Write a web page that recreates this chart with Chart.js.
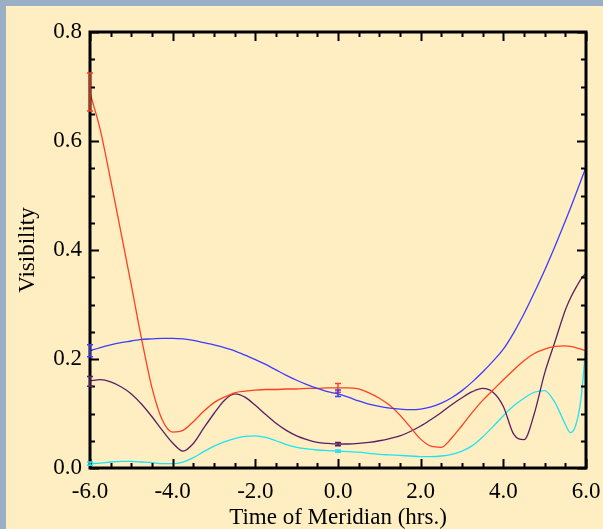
<!DOCTYPE html>
<html>
<head>
<meta charset="utf-8">
<script src="https://cdn.jsdelivr.net/npm/chart.js@4/dist/chart.umd.min.js"></script>
<style>
  html, body { margin: 0; padding: 0; background: #9aafc6; }
  #frame { position: absolute; left: 6px; top: 6px; width: 597px; height: 523px; background: #feeec2; }
  canvas { display: block; }
</style>
</head>
<body>
<div id="frame"><canvas id="chart" width="597" height="523"></canvas></div>
<script>
// hour angle samples (hrs), shared by all curves
const hours = [-6, -5.75, -5.5, -5.25, -5, -4.75, -4.5, -4.25, -4, -3.75, -3.5, -3.25, -3, -2.75, -2.5, -2.25, -2,
  -1.75, -1.5, -1.25, -1, -0.75, -0.5, -0.25, 0, 0.25, 0.5, 0.75, 1, 1.25, 1.5, 1.75, 2, 2.25, 2.5, 2.75, 3,
  3.25, 3.5, 3.75, 4, 4.25, 4.5, 4.75, 5, 5.25, 5.5, 5.625, 5.75, 5.875, 6];

const redVis = [0.688, 0.620, 0.528, 0.432, 0.335, 0.236, 0.147, 0.088, 0.066, 0.069, 0.085, 0.104, 0.120, 0.130,
  0.138, 0.141, 0.143, 0.144, 0.144, 0.145, 0.145, 0.146, 0.146, 0.147, 0.147, 0.147, 0.145, 0.138, 0.128,
  0.115, 0.097, 0.075, 0.053, 0.040, 0.038, 0.055, 0.078, 0.102, 0.124, 0.143, 0.162, 0.180, 0.197, 0.210,
  0.218, 0.223, 0.224, 0.223, 0.221, 0.218, 0.215];

const blueVis = [0.215, 0.221, 0.226, 0.230, 0.233, 0.236, 0.237, 0.238, 0.238, 0.237, 0.234, 0.230, 0.226, 0.221,
  0.215, 0.207, 0.199, 0.190, 0.180, 0.170, 0.161, 0.153, 0.146, 0.140, 0.136, 0.130, 0.123, 0.117, 0.113,
  0.110, 0.108, 0.107, 0.108, 0.112, 0.119, 0.129, 0.142, 0.158, 0.176, 0.196, 0.218, 0.248, 0.283, 0.322,
  0.363, 0.407, 0.453, 0.477, 0.502, 0.527, 0.552];

const purpleVis = [0.160, 0.162, 0.158, 0.149, 0.136, 0.117, 0.094, 0.069, 0.046, 0.031, 0.045, 0.073, 0.100, 0.124,
  0.136, 0.130, 0.115, 0.098, 0.082, 0.069, 0.059, 0.052, 0.047, 0.045, 0.044, 0.044, 0.045, 0.047, 0.050,
  0.054, 0.059, 0.067, 0.077, 0.089, 0.102, 0.116, 0.129, 0.140, 0.146, 0.139, 0.113, 0.062, 0.052, 0.100,
  0.174, 0.232, 0.290, 0.312, 0.330, 0.346, 0.358];

const cyanVis = [0.008, 0.009, 0.011, 0.012, 0.012, 0.011, 0.010, 0.008, 0.008, 0.011, 0.019, 0.030, 0.040, 0.048,
  0.054, 0.058, 0.059, 0.056, 0.050, 0.043, 0.038, 0.035, 0.033, 0.032, 0.031, 0.030, 0.029, 0.027, 0.025,
  0.024, 0.023, 0.022, 0.021, 0.021, 0.022, 0.025, 0.031, 0.041, 0.057, 0.076, 0.096, 0.114, 0.128, 0.139,
  0.142, 0.120, 0.080, 0.065, 0.078, 0.125, 0.226];

// measured points with error bars
const errHours = [-6, 0];
const redMeas = [0.690, 0.147], redErr = [0.035, 0.008];
const blueMeas = [0.215, 0.137], blueErr = [0.011, 0.006];
const purpleMeas = [0.159, 0.044], purpleErr = [0.009, 0.003];
const cyanMeas = [0.008, 0.031], cyanErr = [0.003, 0.002];

const xTicks = [-6, -4, -2, 0, 2, 4, 6];
const yTicks = [0, 0.2, 0.4, 0.6, 0.8];

const colors = { red: "#ff4020", blue: "#3c3cff", purple: "#5c1e62", cyan: "#20e2f0" };
const serif = "'Liberation Serif', 'DejaVu Serif', serif";

function curve(vals, color) {
  return {
    data: hours.map((h, i) => ({ x: h, y: vals[i] })),
    borderColor: color,
    borderWidth: 1.3,
    pointRadius: 0,
    cubicInterpolationMode: "monotone",
    fill: false
  };
}

const errSets = [
  [redMeas, redErr, colors.red],
  [blueMeas, blueErr, colors.blue],
  [purpleMeas, purpleErr, colors.purple],
  [cyanMeas, cyanErr, colors.cyan]
];

// box, inward major/minor ticks on all four sides, then error bars
const frame = {
  id: "frame",
  afterDraw(chart) {
    const { ctx, chartArea: a, scales: { x, y } } = chart;
    ctx.save();
    ctx.strokeStyle = "#000";
    ctx.lineWidth = 2;
    ctx.beginPath();
    for (let k = 0; k <= 24; k++) {
      const v = -6 + k * 0.5;
      const px = Math.round(x.getPixelForValue(v)) + 0.5;
      const len = k % 4 === 0 ? 9 : 5;
      ctx.moveTo(px, a.bottom); ctx.lineTo(px, a.bottom - len);
      ctx.moveTo(px, a.top); ctx.lineTo(px, a.top + len);
    }
    for (let k = 0; k <= 16; k++) {
      const v = k * 0.05;
      const py = Math.round(y.getPixelForValue(v)) + 0.5;
      const len = k % 4 === 0 ? 9 : 5;
      ctx.moveTo(a.left, py); ctx.lineTo(a.left + len, py);
      ctx.moveTo(a.right, py); ctx.lineTo(a.right - len, py);
    }
    ctx.stroke();
    ctx.lineWidth = 3;
    ctx.strokeRect(a.left, a.top, a.right - a.left, a.bottom - a.top);

    ctx.lineWidth = 1.5;
    errSets.forEach(([m, e, c]) => {
      ctx.strokeStyle = c;
      ctx.beginPath();
      errHours.forEach((h, i) => {
        const px = x.getPixelForValue(h);
        const y1 = y.getPixelForValue(m[i] + e[i]);
        const y2 = y.getPixelForValue(m[i] - e[i]);
        ctx.moveTo(px, y1); ctx.lineTo(px, y2);
        ctx.moveTo(px - 3, y1); ctx.lineTo(px + 3, y1);
        ctx.moveTo(px - 3, y2); ctx.lineTo(px + 3, y2);
      });
      ctx.stroke();
    });
    ctx.restore();
  }
};

new Chart(document.getElementById("chart"), {
  type: "line",
  data: {
    datasets: [
      curve(blueVis, colors.blue),
      curve(redVis, colors.red),
      curve(purpleVis, colors.purple),
      curve(cyanVis, colors.cyan)
    ]
  },
  options: {
    responsive: false,
    animation: false,
    devicePixelRatio: 1,
    layout: { padding: { left: 6, top: 26, right: 17, bottom: 0 } },
    plugins: { legend: { display: false }, tooltip: { enabled: false } },
    scales: {
      x: {
        type: "linear",
        min: -6, max: 6,
        afterBuildTicks: s => { s.ticks = xTicks.map(v => ({ value: v })); },
        afterFit: s => { s.height = 61; s.paddingLeft = 0; s.paddingRight = 0; },
        grid: { display: false, drawTicks: false },
        border: { display: false },
        ticks: { color: "#000", padding: 10, maxRotation: 0, font: { family: serif, size: 23 }, callback: v => v.toFixed(1) },
        title: { display: true, text: "Time of Meridian (hrs.)", color: "#000", padding: 0, font: { family: serif, size: 23, lineHeight: 1 } }
      },
      y: {
        type: "linear",
        min: 0, max: 0.8,
        afterBuildTicks: s => { s.ticks = yTicks.map(v => ({ value: v })); },
        afterFit: s => { s.width = 78; s.paddingTop = 0; s.paddingBottom = 0; },
        grid: { display: false, drawTicks: false },
        border: { display: false },
        ticks: { color: "#000", padding: 8, font: { family: serif, size: 23 }, callback: v => v.toFixed(1) },
        title: { display: true, text: "Visibility", color: "#000", padding: { top: 2, bottom: 0 }, font: { family: serif, size: 23, lineHeight: 1.2 } }
      }
    }
  },
  plugins: [frame]
});
</script>
</body>
</html>
